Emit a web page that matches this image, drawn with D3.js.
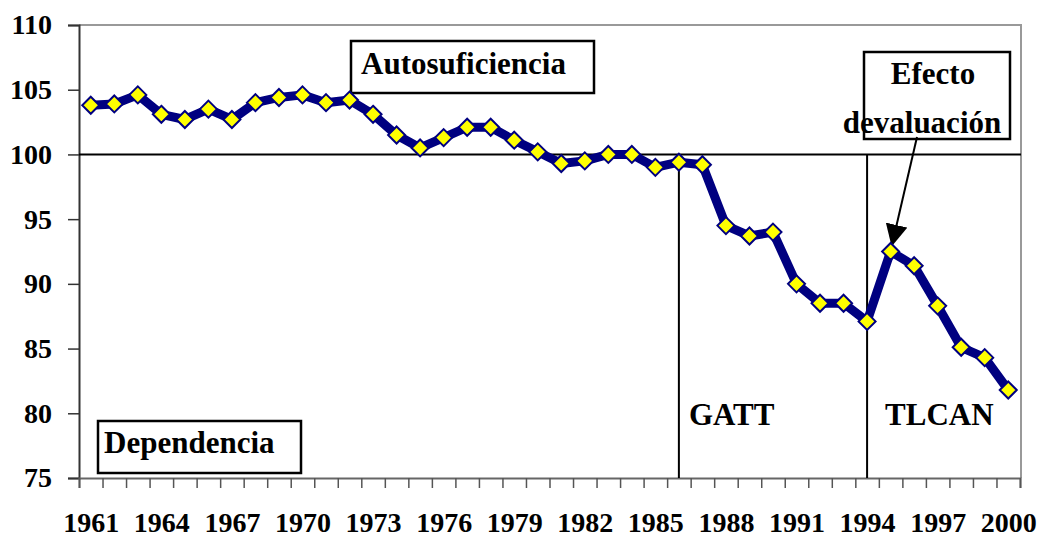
<!DOCTYPE html>
<html>
<head>
<meta charset="utf-8">
<script src="https://cdn.jsdelivr.net/npm/d3@7"></script>
<style>
  body { margin: 0; background: #fff; }
  svg text { font-family: "Liberation Serif", "Times New Roman", serif; font-weight: bold; fill: #000; }
</style>
</head>
<body>
<svg id="chart" width="1037" height="537"></svg>
<script>
// ---------- data ----------
var years = d3.range(1961, 2001);
var values = [
  103.8, 103.9, 104.6, 103.1, 102.7, 103.5, 102.7, 104.0, 104.4, 104.6,
  104.0, 104.2, 103.1, 101.5, 100.5, 101.3, 102.1, 102.1, 101.1, 100.2,
  99.3, 99.5, 100.0, 100.0, 99.0, 99.4, 99.2, 94.5, 93.7, 94.0,
  90.0, 88.5, 88.5, 87.1, 92.5, 91.4, 88.3, 85.1, 84.3, 81.8
];
var labelYears = [1961, 1964, 1967, 1970, 1973, 1976, 1979, 1982, 1985, 1988, 1991, 1994, 1997, 2000];
var yTicks = [75, 80, 85, 90, 95, 100, 105, 110];
var eventYears = [1986, 1994];
var eventNames = ["GATT", "TLCAN"];

var series = years.map(function (y, i) { return { year: y, value: values[i] }; });

// ---------- scales ----------
var svg = d3.select("#chart");
var plotLeft = 79, plotRight = 1020, plotTop = 25, plotBottom = 478;

var x = d3.scaleLinear().domain([1960.5, 2000.5]).range([plotLeft, plotRight]);
var y = d3.scaleLinear().domain([75, 110]).range([plotBottom, plotTop]);

// plot frame (top / right)
svg.append("path")
  .attr("d", "M" + plotLeft + "," + plotTop + "H" + (plotRight + 1) + "V" + plotBottom)
  .attr("fill", "none")
  .attr("stroke", "#999")
  .attr("stroke-width", 2);

// ---------- axes ----------
var yAxis = svg.append("g")
  .attr("transform", "translate(" + plotLeft + ",0)")
  .call(d3.axisLeft(y).tickValues(yTicks).tickSize(11).tickPadding(16).tickFormat(d3.format("d")));
yAxis.select(".domain").attr("stroke", "#333").attr("stroke-width", 2);
yAxis.selectAll(".tick line").attr("stroke", "#333").attr("stroke-width", 1.5);
yAxis.selectAll("text").style("font-size", "28px");

var xTickAxis = svg.append("g")
  .attr("transform", "translate(0," + plotBottom + ")")
  .call(d3.axisBottom(x).tickValues(d3.range(1960.5, 2001.5, 1)).tickSize(10).tickFormat(""));
xTickAxis.select(".domain").attr("stroke", "#666").attr("stroke-width", 2);
xTickAxis.selectAll(".tick line").attr("stroke", "#555").attr("stroke-width", 1.5);

var xLabelAxis = svg.append("g")
  .attr("transform", "translate(0," + plotBottom + ")")
  .call(d3.axisBottom(x).tickValues(labelYears).tickSize(0).tickPadding(34).tickFormat(d3.format("d")));
xLabelAxis.select(".domain").remove();
xLabelAxis.selectAll("text").style("font-size", "28px");

// ---------- reference lines ----------
svg.append("line")
  .attr("x1", plotLeft).attr("x2", plotRight + 1)
  .attr("y1", y(100)).attr("y2", y(100))
  .attr("stroke", "#000").attr("stroke-width", 2);

svg.selectAll(".event")
  .data(eventYears)
  .enter()
  .append("line")
  .attr("class", "event")
  .attr("x1", function (d) { return x(d); })
  .attr("x2", function (d) { return x(d); })
  .attr("y1", y(100))
  .attr("y2", plotBottom)
  .attr("stroke", "#000")
  .attr("stroke-width", 2);

var eventOffsets = [10, 18];
svg.selectAll(".eventLabel")
  .data(eventNames)
  .enter()
  .append("text")
  .attr("class", "eventLabel")
  .attr("x", function (d, i) { return x(eventYears[i]) + eventOffsets[i]; })
  .attr("y", 425)
  .style("font-size", "31px")
  .text(function (d) { return d; });

// ---------- annotation boxes ----------
var boxStyle = function (sel) {
  sel.attr("fill", "none").attr("stroke", "#000").attr("stroke-width", 2.5);
};
svg.append("rect").attr("x", 351).attr("y", 41).attr("width", 243).attr("height", 52).call(boxStyle);
svg.append("text").attr("x", 361).attr("y", 74).style("font-size", "31px").text("Autosuficiencia");

svg.append("rect").attr("x", 98).attr("y", 421).attr("width", 203).attr("height", 52).call(boxStyle);
svg.append("text").attr("x", 104).attr("y", 453).style("font-size", "31px").text("Dependencia");

svg.append("rect").attr("x", 864).attr("y", 52).attr("width", 146).attr("height", 87).call(boxStyle);
svg.append("text").attr("x", 933).attr("y", 84).attr("text-anchor", "middle").style("font-size", "31px").text("Efecto");
svg.append("text").attr("x", 922).attr("y", 133).attr("text-anchor", "middle").style("font-size", "31px").text("devaluación");

// arrow to 1995
svg.append("defs").append("marker")
  .attr("id", "arrow")
  .attr("viewBox", "0 0 10 10")
  .attr("refX", 10).attr("refY", 5)
  .attr("markerWidth", 22).attr("markerHeight", 22)
  .attr("markerUnits", "userSpaceOnUse")
  .attr("orient", "auto")
  .append("path")
  .attr("d", "M0,0L10,5L0,10Z")
  .attr("fill", "#000");
svg.append("line")
  .attr("x1", 917).attr("y1", 137)
  .attr("x2", x(1995) + 1).attr("y2", y(92.5) - 5)
  .attr("stroke", "#000").attr("stroke-width", 2)
  .attr("marker-end", "url(#arrow)");

// ---------- series ----------
var line = d3.line()
  .x(function (d) { return x(d.year); })
  .y(function (d) { return y(d.value); });

svg.append("path")
  .datum(series)
  .attr("d", line)
  .attr("fill", "none")
  .attr("stroke", "#000080")
  .attr("stroke-width", 9)
  .attr("stroke-linejoin", "round");

svg.selectAll(".pt")
  .data(series)
  .enter()
  .append("path")
  .attr("class", "pt")
  .attr("transform", function (d) { return "translate(" + x(d.year) + "," + y(d.value) + ")"; })
  .attr("d", "M0,-8.5L8.5,0L0,8.5L-8.5,0Z")
  .attr("fill", "#ffff00")
  .attr("stroke", "#000080")
  .attr("stroke-width", 2);
</script>
</body>
</html>
